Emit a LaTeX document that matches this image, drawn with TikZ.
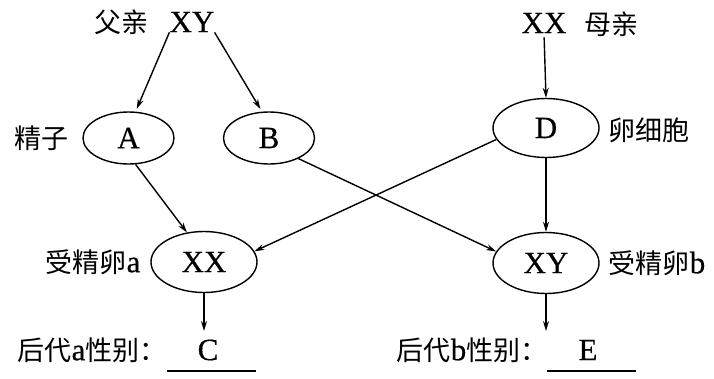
\documentclass[tikz,border=0pt]{standalone}
\usepackage{fontspec}
\setmainfont{Liberation Serif}[FakeBold=0.5]
\newfontfamily\cjk{Noto Sans CJK SC}
\usetikzlibrary{shapes.geometric,arrows.meta}
\newcommand\latf{\fontspec{Liberation Serif}[FakeBold=0.5]\fontsize{31}{33}\selectfont}
\newcommand\zhf{\cjk\fontsize{27}{30}\selectfont}
\begin{document}
\begin{tikzpicture}[x=1pt,y=-1pt,
  lat/.style={font=\latf, inner sep=0pt},
  zh/.style={font=\zhf, inner sep=0pt},
  oval/.style={draw, line width=1.4pt, ellipse, inner sep=0pt, font=\latf},
  arr/.style={line width=1.4pt, -{Stealth[length=10pt,width=6pt]}},
  uline/.style={line width=1.4pt}]
\useasboundingbox (0,0) rectangle (714,378);
% top labels
\node[zh]  (fq)  at (121,22) {父亲};
\node[lat] (xyf) at (192,22) {XY};
\node[lat] (xxm) at (544,23) {XX};
\node[zh]  (mq)  at (611,24) {母亲};
% gametes
\node[oval, minimum width=91pt, minimum height=52pt] (A) at (128.5,138) {A};
\node[oval, minimum width=91pt, minimum height=52pt] (B) at (269,138) {B};
\node[oval, minimum width=106pt, minimum height=59pt] (D) at (546,128) {D};
\node[zh] (jz)  at (41,138)  {精子};
\node[zh] (lxb) at (649,130) {卵细胞};
% zygotes
\node[oval, minimum width=106pt, minimum height=61pt] (ea) at (204,262) {XX};
\node[oval, minimum width=106pt, minimum height=61pt] (eb) at (546,263) {XY};
\node[zh] (sa) at (93,262)  {受精卵{\latf a}};
\node[zh] (sb) at (657,263) {受精卵{\latf b}};
% offspring
\node[zh] (ha) at (92,350)  {后代{\latf a}性别：};
\node[zh] (hb) at (472,350) {后代{\latf b}性别：};
\node[lat] (C) at (208,350) {C};
\node[lat] (E) at (588,350) {E};
\coordinate (ca) at (204,331);
\coordinate (cb) at (546,331);
\draw[uline] (167,371) -- (256,371);
\draw[uline] (547,371) -- (636,371);
% arrows
\draw[arr, shorten >=3pt] (xyf.south west) -- (A.75);
\draw[arr, shorten >=3pt] (xyf.south east) -- (B.105);
\draw[arr, shorten <=4pt] (xxm.south) -- (D.north);
\draw[arr] (A.-75) -- (ea.120);
\draw[arr] (B.-35) -- (eb.167);
\draw[arr] (D.193) -- (ea.12);
\draw[arr] (D.south) -- (eb.north);
\draw[arr] (ea.south) -- (ca);
\draw[arr] (eb.south) -- (cb);
\end{tikzpicture}
\end{document}
